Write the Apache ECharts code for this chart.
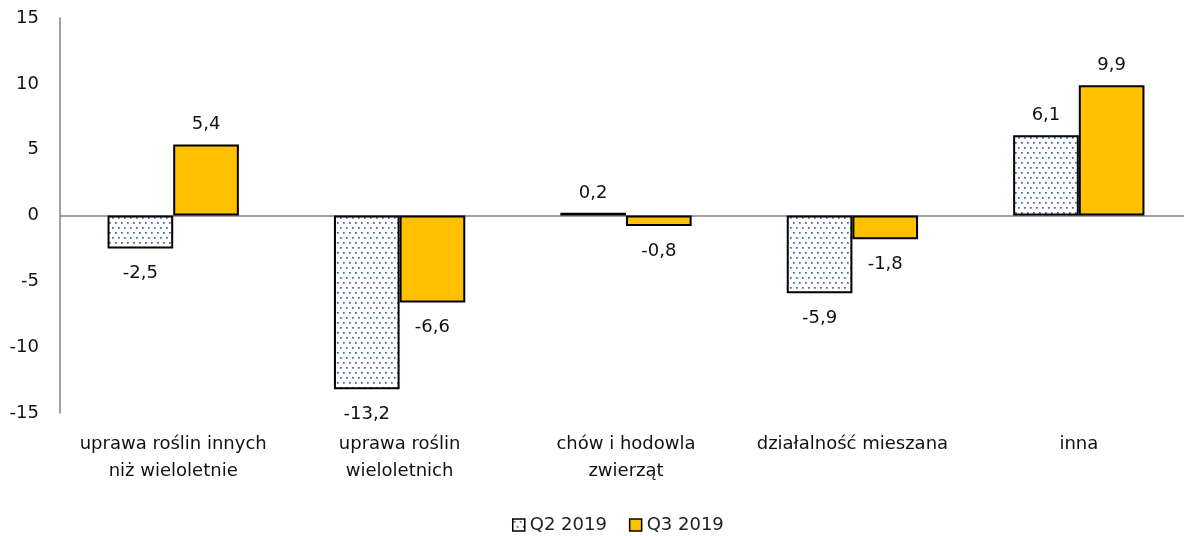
<!DOCTYPE html>
<html>
<head>
<meta charset="utf-8">
<script src="https://cdn.jsdelivr.net/npm/echarts@6/dist/echarts.min.js"></script>
<style>
  html, body { margin: 0; padding: 0; background: #fff; }
  #main { width: 1184px; height: 536px; }
</style>
</head>
<body>
<div id="main"></div>
<script>
var categories = ['uprawa roślin innych\nniż wieloletnie', 'uprawa roślin\nwieloletnich', 'chów i hodowla\nzwierząt', 'działalność mieszana', 'inna'];
var q2 = [-2.5, -13.2, 0.2, -5.9, 6.1];
var q3 = [5.4, -6.6, -0.8, -1.8, 9.9];
var seriesNames = ['Q2 2019', 'Q3 2019'];

// dotted fill for Q2
var tile = document.createElement('canvas');
tile.width = 6; tile.height = 10;
var ctx = tile.getContext('2d');
ctx.fillStyle = '#ffffff';
ctx.fillRect(0, 0, 6, 10);
ctx.fillStyle = '#3a62a8';
ctx.fillRect(1, 2, 1.7, 1.7);
ctx.fillRect(4, 7, 1.7, 1.7);

function withLabels(arr) {
    return arr.map(function (v) {
        return {
            value: v,
            label: v >= 0 ? { position: 'top', distance: 11 } : { position: 'bottom', distance: 16 }
        };
    });
}

function fmt(p) {
    return String(p.value).replace('.', ',');
}

var font = 'DejaVu Sans';

var myChart = echarts.init(document.getElementById('main'));
var option = {
    animation: false,
    legend: {
        top: 511,
        left: 507,
        itemWidth: 12,
        itemHeight: 12,
        itemGap: 22,
        textStyle: { fontFamily: font, fontSize: 18, color: '#222' },
        data: [
            { name: seriesNames[0], icon: 'rect', itemStyle: { color: { image: tile, repeat: 'repeat' }, borderColor: '#000', borderWidth: 1.5 } },
            { name: seriesNames[1], icon: 'rect', itemStyle: { color: '#ffc000', borderColor: '#000', borderWidth: 1.5 } }
        ]
    },
    grid: {
        left: 60,
        top: 18,
        width: 1132,
        height: 395,
        outerBoundsMode: 'none'
    },
    xAxis: {
        type: 'category',
        data: categories,
        axisLine: { show: false },
        axisTick: { show: false },
        axisLabel: {
            margin: 18,
            interval: 0,
            fontFamily: font,
            fontSize: 18,
            lineHeight: 27,
            color: '#111'
        }
    },
    yAxis: {
        type: 'value',
        min: -15,
        max: 15,
        interval: 5,
        axisLine: { show: true, lineStyle: { color: '#808080', width: 1.5 } },
        axisTick: { show: false },
        splitLine: { show: false },
        axisLabel: {
            margin: 21,
            fontFamily: font,
            fontSize: 18,
            color: '#111'
        }
    },
    series: [
        {
            name: seriesNames[0],
            type: 'bar',
            data: withLabels(q2),
            barGap: '0%',
            barCategoryGap: '42%',
            itemStyle: {
                color: { image: tile, repeat: 'repeat' },
                borderColor: '#000',
                borderWidth: 2
            },
            label: {
                show: true,
                formatter: fmt,
                fontFamily: font,
                fontSize: 18,
                color: '#111'
            },
            markLine: {
                silent: true,
                symbol: 'none',
                label: { show: false },
                lineStyle: { color: '#808080', width: 1.5, type: 'solid' },
                data: [{ yAxis: 0 }],
                z: 0
            }
        },
        {
            name: seriesNames[1],
            type: 'bar',
            data: withLabels(q3),
            itemStyle: {
                color: '#ffc000',
                borderColor: '#000',
                borderWidth: 2
            },
            label: {
                show: true,
                formatter: fmt,
                fontFamily: font,
                fontSize: 18,
                color: '#111'
            }
        }
    ]
};
myChart.setOption(option);
</script>
</body>
</html>
